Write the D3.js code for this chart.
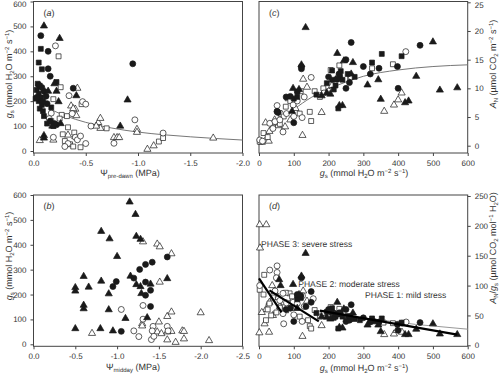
<!DOCTYPE html>
<html><head><meta charset="utf-8">
<script src="https://cdn.jsdelivr.net/npm/d3@7"></script>
<style>body{margin:0;background:#fff;-webkit-font-smoothing:antialiased}svg{display:block}text{font-family:"Liberation Sans",Arial,sans-serif;fill:#333;text-rendering:geometricPrecision}</style>
</head><body><svg id="c" width="500" height="374"></svg>
<script>
// ---------- data ----------
// panel (a): Psi pre-dawn (MPa) vs gs
const aFilledCircle=[[-0.07,463],[-0.14,400],[-0.14,330],[-0.16,300],[-0.38,252],[-0.95,350],[-0.03,215],[-0.1,240],[-0.12,220],[-0.08,255],[-0.13,190],[-0.16,120],[-0.22,105],[-0.2,110],[-0.05,265],[-0.09,200]];
const aFilledSquare=[[-0.07,410],[-0.05,355],[-0.08,328],[-0.04,270],[-0.06,262],[-0.03,245],[-0.05,230],[-0.07,215],[-0.05,200],[-0.08,185],[-0.06,170],[-0.09,160],[-0.1,140],[-0.22,277],[-0.17,175],[-0.13,110],[-0.19,100],[-0.02,210]];
const aFilledTriangle=[[-0.1,502],[-0.25,452],[-0.2,270],[-0.22,240],[-0.41,222],[-0.9,205],[-0.83,100],[-0.1,62],[-0.1,52],[-0.26,110],[-0.24,198],[-0.14,240],[-0.18,100]];
const aOpenCircle=[[-0.21,422],[-0.17,152],[-0.34,222],[-0.47,198],[-0.5,188],[-0.97,125],[-0.77,31],[-1.24,72],[-0.19,55],[-0.5,30],[-0.37,150],[-0.55,100],[-0.33,30],[-0.4,55],[-0.42,45],[-0.3,18],[-0.15,130],[-0.45,60]];
const aOpenSquare=[[-0.24,380],[-0.26,256],[-0.19,208],[-0.46,188],[-0.27,145],[-0.32,140],[-0.33,95],[-0.28,67],[-0.39,74],[-0.7,91],[-1.2,38],[-1.24,52],[-0.35,27],[-0.45,15],[-0.38,18],[-0.3,40],[-0.17,120],[-0.25,130]];
const aOpenTriangle=[[-0.42,252],[-0.36,181],[-0.4,168],[-0.41,142],[-0.62,114],[-0.64,131],[-0.64,91],[-0.6,100],[-0.77,54],[-0.8,54],[-0.82,54],[-0.99,87],[-0.99,75],[-1.09,7],[-1.15,21],[-1.72,52],[-0.06,42],[-0.19,44],[-0.33,64],[-0.4,58],[-0.38,170]];
const aFit=[[-0.15,170],[-0.3,142],[-0.5,115],[-0.75,92],[-1.0,76],[-1.25,65],[-1.5,57],[-1.75,50],[-2.0,44]];

// panel (b): Psi midday (MPa) vs gs
const bFilledTriangle=[[-1.15,572],[-1.22,522],[-0.81,454],[-0.91,424],[-1.23,434],[-1.28,422],[-1.0,353],[-0.6,273],[-0.5,228],[-0.5,214],[-0.66,230],[-0.81,254],[-0.9,203],[-0.6,157],[-0.6,143],[-0.9,139],[-1.1,104],[-0.5,63],[-0.8,63],[-0.95,54],[-1.16,274],[-1.23,240],[-1.28,232],[-1.29,204],[-1.4,242],[-1.6,264],[-1.36,107]];
const bFilledCircle=[[-0.99,252],[-0.95,232],[-1.2,266],[-1.27,301],[-1.34,321],[-1.42,330],[-1.34,250],[-1.34,197],[-1.4,217],[-1.4,152],[-1.6,351],[-1.05,52]];
const bOpenCircle=[[-1.05,140],[-1.31,156],[-1.31,101],[-1.2,54],[-1.26,31],[-1.43,72],[-1.42,54],[-1.41,19],[-1.44,32],[-1.6,72],[-1.61,54]];
const bOpenTriangle=[[-1.31,412],[-1.48,403],[-1.51,392],[-1.65,364],[-1.51,250],[-1.6,112],[-1.65,130],[-2.0,127],[-1.3,83],[-1.3,74],[-1.5,90],[-1.48,50],[-1.53,43],[-1.6,18],[-1.65,52],[-1.7,8],[-1.78,54],[-1.8,52],[-1.8,22],[-2.1,15],[-0.7,44],[-1.6,50]];

// panel (c): gs vs A_N
const cFilledTriangle=[[134,20.6],[225,16.1],[122,14.1],[98,10.0],[115,9.8],[244,14.8],[231,7.0],[240,7.0],[312,10.6],[350,8.1],[343,11.5],[452,12.1],[500,18.1],[520,9.7],[570,10.1],[420,7.5],[430,7.8],[195,9.2],[220,11.5],[270,14.5],[265,12.5],[205,9.0],[95,6.0],[180,8.7]];
const cFilledCircle=[[122,13.8],[122,13.4],[265,18.0],[250,15.0],[300,13.8],[320,12.5],[345,13.5],[398,13.8],[400,10.0],[463,17.5],[225,11.6],[250,10.0],[100,4.0],[78,8.5],[90,8.6],[110,9.4],[55,5.8],[200,12.0],[260,11.0],[230,12.5],[52,6.0]];
const cFilledSquare=[[210,13.1],[228,6.5],[353,16.0],[410,15.6],[325,14.5],[165,8.9],[195,10.9],[210,11.5],[233,12.0],[220,10.5],[240,11.5],[255,12.5],[275,12.0],[215,9.8],[100,8.2],[110,8.5],[235,13.0]];
const cOpenSquare=[[206,13.2],[231,14.0],[385,14.2],[262,11.9],[77,6.8],[117,5.6],[146,5.9],[71,5.1],[40,3.2],[60,3.8],[13,2.2],[2,0.7],[175,8.5],[120,9.5],[185,10.0],[325,13.5],[160,9.5],[150,4.3],[25,1.5],[90,7.8]];
const cOpenCircle=[[150,11.9],[187,9.2],[79,5.6],[98,7.1],[52,7.0],[52,5.9],[100,5.1],[124,4.9],[69,2.4],[2,1.0],[422,16.4],[31,3.9],[46,4.2],[110,7.8],[200,9.5],[265,12.0],[130,8.5],[60,4.5],[10,0.8],[40,3.0]];
const cOpenTriangle=[[127,11.6],[19,4.0],[125,1.8],[180,5.8],[360,6.0],[388,7.1],[400,8.0],[410,9.2],[45,4.5],[30,2.5],[28,0.8],[8,0.6],[55,3.5],[65,5.5],[75,3.3],[90,4.5],[105,6.5],[138,10.2],[85,8.2],[210,10.5]];
const cFit=[[0,0.3],[50,3.6],[100,6.3],[150,8.4],[200,9.9],[250,11.1],[300,12.1],[400,13.2],[500,13.8],[600,14.1]];

// panel (d): gs vs A_N/gs
const dFilledTriangle=[[134,154],[225,72],[122,116],[98,102],[115,85],[244,61],[231,30],[240,29],[312,34],[350,23],[343,34],[452,27],[500,36],[520,19],[570,18],[420,18],[430,18],[195,47],[220,52],[270,54],[265,47],[205,44],[58,110],[62,100],[180,48],[110,62]];
const dFilledCircle=[[122,113],[150,90],[265,68],[250,60],[300,46],[320,39],[345,39],[398,35],[400,25],[463,38],[225,52],[250,40],[100,40],[78,60],[90,62],[110,85],[120,83],[200,60],[260,42],[230,54],[135,65],[150,72]];
const dFilledSquare=[[210,62],[228,28],[353,45],[410,38],[325,45],[165,54],[195,56],[210,55],[233,52],[220,48],[240,48],[255,49],[275,44],[215,46],[120,80],[110,77],[235,55],[290,42],[330,40]];
const dOpenSquare=[[15,118],[2,93],[88,87],[146,32],[141,42],[358,38],[13,85],[40,80],[60,63],[71,72],[77,88],[117,48],[150,28],[175,48],[185,54],[206,64],[231,61],[262,45],[325,42],[385,37],[25,60],[35,50],[50,55],[95,82],[120,79],[160,59],[20,42],[30,70]];
const dOpenCircle=[[52,133],[52,122],[50,113],[69,87],[69,53],[71,36],[156,78],[125,83],[411,37],[423,39],[2,100],[31,126],[46,91],[79,71],[98,72],[100,51],[124,40],[110,70],[200,48],[265,45],[130,65],[60,75]];
const dOpenTriangle=[[2,202],[21,202],[3,163],[1,21],[16,36],[29,22],[38,100],[125,15],[180,33],[360,18],[388,19],[396,25],[411,22],[45,90],[30,72],[55,80],[20,60],[60,65],[75,58],[90,70],[105,62],[127,91],[138,74],[8,55],[40,50]];
const dFitAll=[[170,58],[300,46],[450,35],[600,27]];
const dPhase1=[[175,58],[570,18]];
const dPhase2=[[30,92],[172,40]];
const dPhase3=[[0,112],[65,55]];
const dPhaseLabels=[["PHASE 3: severe stress",6,165],["PHASE 2: moderate stress",113,98],["PHASE 1: mild stress",305,80]];

const psiTicks=[0,-0.5,-1.0,-1.5,-2.0];
const psiTicksB=[0,-0.5,-1.0,-1.5,-2.0,-2.5];
const gsTicks=[0,100,200,300,400,500,600];
const gsYTicks=[0,100,200,300,400,500,600];
const aTicks=[0,5,10,15,20,25];
const rTicks=[0,50,100,150,200,250];

// ---------- drawing ----------
const svg=d3.select("#c");
const INK="#1a1a1a", FRAME="#444";
const sym={circle:d3.symbolCircle,square:d3.symbolSquare,triangle:d3.symbolTriangle};
const sizes={circle:28,square:24,triangle:22};

function panel(o){
  const g=svg.append("g");
  const x=d3.scaleLinear().domain(o.xd).range([o.x0,o.x1]);
  const y=d3.scaleLinear().domain(o.yd).range(o.yr);
  g.append("rect").attr("x",o.x0).attr("y",o.top).attr("width",o.x1-o.x0).attr("height",o.bot-o.top)
   .attr("fill","none").attr("stroke",FRAME).attr("stroke-width",1);
  const xa=d3.axisBottom(x).tickValues(o.xt).tickSize(3).tickPadding(4).tickFormat(o.xf);
  const gx=g.append("g").attr("transform",`translate(0,${o.bot})`).call(xa);
  const ya=(o.right?d3.axisRight(y):d3.axisLeft(y)).tickValues(o.yt).tickSize(3).tickPadding(4).tickFormat(o.yf||d3.format("d"));
  const gy=g.append("g").attr("transform",`translate(${o.right?o.x1:o.x0},0)`).call(ya);
  [gx,gy].forEach(a=>{a.select(".domain").remove();a.selectAll("line").attr("stroke",FRAME);
    a.selectAll("text").attr("font-size",8).attr("fill","#444").attr("font-family","Liberation Sans, Arial, sans-serif");});
  gy.selectAll(".tick").filter(d=>d===o.yt[o.yt.length-1]).select("text").attr("dy",o.topShift||"0.32em");
  (o.lines||[]).forEach(L=>{
    g.append("path").datum(L.d).attr("fill","none").attr("stroke",L.c).attr("stroke-width",L.w)
     .attr("d",d3.line().x(d=>x(d[0])).y(d=>y(d[1])).curve(L.curve||d3.curveLinear));
  });
  o.series.forEach(s=>{
    g.append("g").selectAll("path").data(s.d).join("path")
     .attr("transform",d=>`translate(${x(d[0])},${y(d[1])})`)
     .attr("d",d3.symbol(sym[s.shape],sizes[s.shape]))
     .attr("fill",s.filled?INK:"#fff").attr("stroke",INK).attr("stroke-width",0.7);
  });
  (o.after||[]).forEach(L=>{
    g.append("path").datum(L.d).attr("fill","none").attr("stroke",L.c).attr("stroke-width",L.w)
     .attr("d",d3.line().x(d=>x(d[0])).y(d=>y(d[1])));
  });
  const t=g.append("text").attr("x",o.x0+10).attr("y",o.top+14).attr("font-size",9);
  t.append("tspan").text("(");t.append("tspan").attr("font-style","italic").text(o.label);t.append("tspan").text(")");
  return {g,x,y};
}
const fmtPsi=d=>d===0?"0.0":d3.format(".1f")(d).replace("−","-");

const A=panel({x0:33.5,x1:242.5,top:1.5,bot:153,xd:[0,-2],yd:[0,600],yr:[151,1.5],xt:psiTicks,yt:gsYTicks,xf:fmtPsi,label:"a",topShift:"0.62em",
  lines:[{d:aFit,c:"#777",w:1,curve:d3.curveMonotoneX}],
  series:[{d:aOpenTriangle,shape:"triangle"},{d:aOpenSquare,shape:"square"},{d:aOpenCircle,shape:"circle"},
          {d:aFilledSquare,shape:"square",filled:1},{d:aFilledCircle,shape:"circle",filled:1},{d:aFilledTriangle,shape:"triangle",filled:1}]});
const B=panel({x0:33.5,x1:242.5,top:195,bot:346.3,xd:[0,-2.5],yd:[0,600],yr:[344.3,195],xt:psiTicksB,yt:gsYTicks,xf:fmtPsi,label:"b",
  series:[{d:bOpenTriangle,shape:"triangle"},{d:bOpenCircle,shape:"circle"},
          {d:bFilledCircle,shape:"circle",filled:1},{d:bFilledTriangle,shape:"triangle",filled:1}]});
const C=panel({x0:259,x1:467.7,top:1.5,bot:153,xd:[0,600],yd:[0,25],yr:[145.7,2.3],xt:gsTicks,yt:aTicks,xf:d3.format("d"),right:1,label:"c",topShift:"0.6em",
  lines:[{d:cFit,c:"#777",w:1,curve:d3.curveMonotoneX}],
  series:[{d:cOpenTriangle,shape:"triangle"},{d:cOpenSquare,shape:"square"},{d:cOpenCircle,shape:"circle"},
          {d:cFilledSquare,shape:"square",filled:1},{d:cFilledCircle,shape:"circle",filled:1},{d:cFilledTriangle,shape:"triangle",filled:1}]});
const D=panel({x0:259,x1:467.7,top:195,bot:346.3,xd:[0,600],yd:[0,250],yr:[345.3,196],xt:gsTicks,yt:rTicks,xf:d3.format("d"),right:1,label:"d",
  lines:[{d:dFitAll,c:"#999",w:1}],
  series:[{d:dOpenTriangle,shape:"triangle"},{d:dOpenSquare,shape:"square"},{d:dOpenCircle,shape:"circle"},
          {d:dFilledSquare,shape:"square",filled:1},{d:dFilledCircle,shape:"circle",filled:1},{d:dFilledTriangle,shape:"triangle",filled:1}],
  after:[{d:dPhase1,c:"#000",w:2.2},{d:dPhase2,c:"#000",w:2.2},{d:dPhase3,c:"#000",w:2.2}]});
D.g.selectAll(".ph").data(dPhaseLabels).join("text").attr("class","ph")
  .attr("x",d=>D.x(d[1])).attr("y",d=>D.y(d[2])).attr("font-size",8.5).attr("fill","#333").text(d=>d[0]);

// ---------- axis titles ----------
function gsTitle(sel){
  sel.append("tspan").attr("font-style","italic").text("g");
  sel.append("tspan").attr("font-size",6).attr("dy",2).text("s");
  sel.append("tspan").attr("dy",-2).text(" (mmol H");
  sel.append("tspan").attr("font-size",6).attr("dy",2).text("2");
  sel.append("tspan").attr("dy",-2).text("O m");
  sel.append("tspan").attr("font-size",6).attr("dy",-3).text("−2");
  sel.append("tspan").attr("dy",3).text(" s");
  sel.append("tspan").attr("font-size",6).attr("dy",-3).text("−1");
  sel.append("tspan").attr("dy",3).text(")");
}
function psiTitle(sel,sub){
  sel.append("tspan").text("Ψ");
  sel.append("tspan").attr("font-size",6).attr("dy",2).text(sub);
  sel.append("tspan").attr("dy",-2).text(" (MPa)");
}
const fs=9;
svg.append("text").attr("x",130).attr("y",176).attr("text-anchor","middle").attr("font-size",fs).call(psiTitle,"pre-dawn");
svg.append("text").attr("x",133).attr("y",370).attr("text-anchor","middle").attr("font-size",fs).call(psiTitle,"midday");
svg.append("text").attr("x",364).attr("y",176).attr("text-anchor","middle").attr("font-size",fs).call(gsTitle);
svg.append("text").attr("x",364).attr("y",371).attr("text-anchor","middle").attr("font-size",fs).call(gsTitle);
svg.append("text").attr("transform","translate(12,74) rotate(-90)").attr("text-anchor","middle").attr("font-size",fs).call(gsTitle);
svg.append("text").attr("transform","translate(12,256) rotate(-90)").attr("text-anchor","middle").attr("font-size",fs).call(gsTitle);
const tc=svg.append("text").attr("transform","translate(496,64) rotate(-90)").attr("text-anchor","middle").attr("font-size",fs);
tc.append("tspan").attr("font-style","italic").text("A");
tc.append("tspan").attr("font-size",6).attr("dy",2).text("N");
tc.append("tspan").attr("dy",-2).text(" (µmol CO");
tc.append("tspan").attr("font-size",6).attr("dy",2).text("2");
tc.append("tspan").attr("dy",-2).text(" m");
tc.append("tspan").attr("font-size",6).attr("dy",-3).text("−2");
tc.append("tspan").attr("dy",3).text(" s");
tc.append("tspan").attr("font-size",6).attr("dy",-3).text("−1");
tc.append("tspan").attr("dy",3).text(")");
const td=svg.append("text").attr("transform","translate(496,248) rotate(-90)").attr("text-anchor","middle").attr("font-size",fs);
td.append("tspan").attr("font-style","italic").text("A");
td.append("tspan").attr("font-size",6).attr("dy",2).text("N");
td.append("tspan").attr("dy",-2).text("/");
td.append("tspan").attr("font-style","italic").text("g");
td.append("tspan").attr("font-size",6).attr("dy",2).text("s");
td.append("tspan").attr("dy",-2).text(" (µmol CO");
td.append("tspan").attr("font-size",6).attr("dy",2).text("2");
td.append("tspan").attr("dy",-2).text(" mol");
td.append("tspan").attr("font-size",6).attr("dy",-3).text("−1");
td.append("tspan").attr("dy",3).text(" H");
td.append("tspan").attr("font-size",6).attr("dy",2).text("2");
td.append("tspan").attr("dy",-2).text("O)");
</script></body></html>
